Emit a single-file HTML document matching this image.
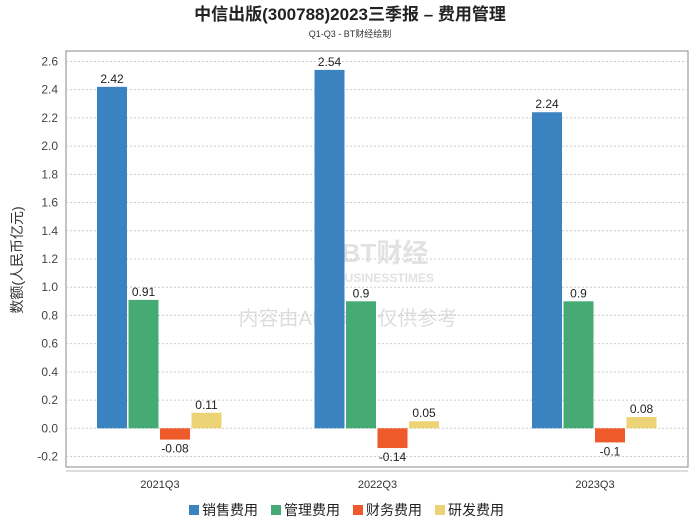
<!DOCTYPE html>
<html><head><meta charset="utf-8"><style>
body{margin:0;background:#fff;font-family:"Liberation Sans","Noto Sans CJK SC",sans-serif;}
svg text{font-family:"Liberation Sans","Noto Sans CJK SC",sans-serif;}
</style></head><body>
<svg id="c" width="700" height="524">
<text x="350" y="20" text-anchor="middle" font-size="17" font-weight="bold" fill="#222">中信出版(300788)2023三季报 – 费用管理</text>
<text x="350" y="37" text-anchor="middle" font-size="9" fill="#333">Q1-Q3 - BT财经绘制</text>
<rect x="66" y="51" width="622" height="416" fill="none" stroke="#888"/>
<line x1="66" y1="471" x2="688" y2="471" stroke="#bbb"/>
<text x="22" y="260" transform="rotate(-90 22 260)" text-anchor="middle" font-size="14" fill="#333">数额(人民币亿元)</text>
<text x="385" y="262" text-anchor="middle" font-size="26" font-weight="bold" fill="#e2e2e2">BT财经</text>
<text x="385" y="282" text-anchor="middle" font-size="12" font-weight="bold" fill="#e2e2e2">BUSINESSTIMES</text>
<text x="348" y="325" text-anchor="middle" font-size="20" fill="#ddd">内容由AI生成，仅供参考</text>
<g id="grid"></g><g id="bars"></g><g id="legend"></g>
</svg>
<script>
const categories=["2021Q3","2022Q3","2023Q3"];
const seriesNames=["销售费用","管理费用","财务费用","研发费用"];
const colors=["#3a82c0","#45aa74","#ef5a2a","#ecd476"];
const sales=[2.42,2.54,2.24];
const admin=[0.91,0.9,0.9];
const finance=[-0.08,-0.14,-0.1];
const rd=[0.11,0.05,0.08];
const yTicks=[-0.2,0,0.2,0.4,0.6,0.8,1.0,1.2,1.4,1.6,1.8,2.0,2.2,2.4,2.6];
const NS="http://www.w3.org/2000/svg";
function y(v){return 428.3-v*141.1;}
function xc(i){return 160+i*217.5;}
function mk(t,a,p){const e=document.createElementNS(NS,t);for(const k in a)e.setAttribute(k,a[k]);p.appendChild(e);return e;}
const g=document.getElementById('grid');
yTicks.forEach(v=>{
 const l=mk('line',{x1:66,x2:688,y1:y(v),y2:y(v),stroke:'#ccc','stroke-dasharray':'2,2'},g);
 
 
 const t=mk('text',{x:58,y:y(v)+4,'text-anchor':'end','font-size':12,fill:'#444'},g);
 t.textContent=v.toFixed(1);
 
 
});
const b=document.getElementById('bars');
const all=[sales,admin,finance,rd];
categories.forEach((c,i)=>{
 const t=mk('text',{x:xc(i),y:488,'text-anchor':'middle','font-size':11,fill:'#333'},b);
 t.textContent=c;
 
 
 all.forEach((s,j)=>{
  const v=s[i];const x0=xc(i)-63+j*31.5;
  const top=Math.min(y(v),y(0)),h=Math.abs(y(v)-y(0));
  const r=mk('rect',{x:x0,y:top,width:30,height:h,fill:colors[j]},b);
  
  
  const lt=mk('text',{x:x0+15,y:v>=0?top-4:top+h+13,'text-anchor':'middle','font-size':12,fill:'#222'},b);
  lt.textContent=String(v);
  
  
 });
});
const lg=document.getElementById('legend');
seriesNames.forEach((n,j)=>{
 const x0=189+j*82;
 const r=mk('rect',{x:x0,y:505,width:10,height:10,fill:colors[j]},lg);
 
 
 const t=mk('text',{x:x0+13,y:515,'font-size':14,fill:'#222'},lg);
 t.textContent=n;
 
 
});
</script>
</body></html>
